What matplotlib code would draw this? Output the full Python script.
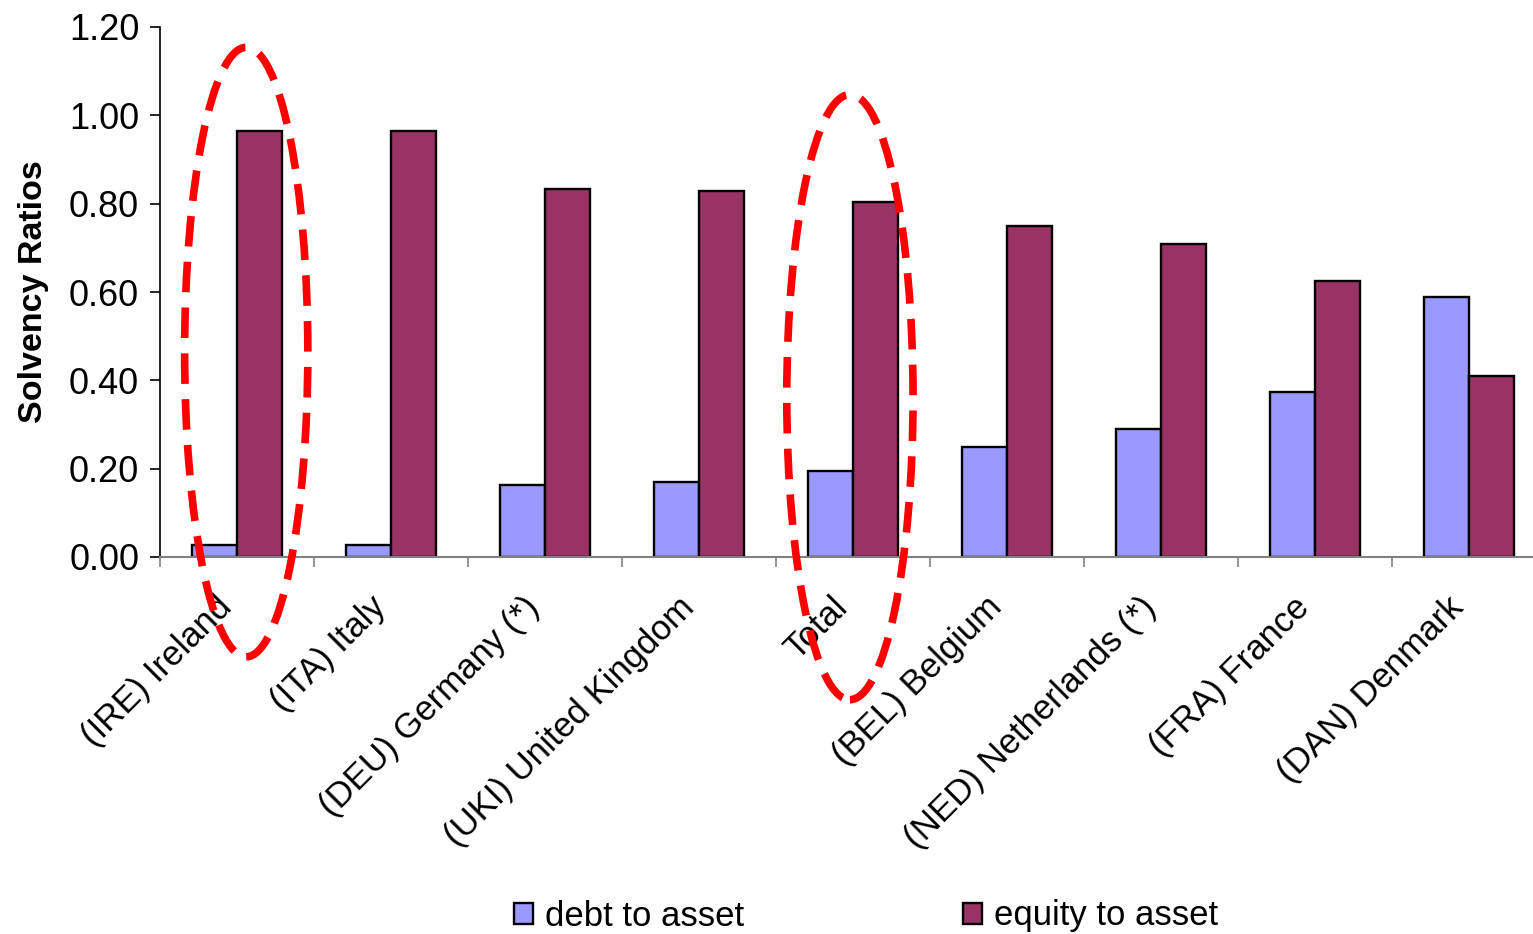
import matplotlib
matplotlib.use("Agg")
import matplotlib.pyplot as plt
import matplotlib.transforms as mtransforms
import numpy as np
from matplotlib.patches import Ellipse

plt.rcParams['font.family'] = ['Liberation Sans', 'DejaVu Sans']

categories = ["(IRE) Ireland", "(ITA) Italy", "(DEU) Germany (*)", "(UKI) United Kingdom",
              "Total", "(BEL) Belgium", "(NED) Netherlands (*)", "(FRA) France", "(DAN) Denmark"]
debt_to_asset = [0.027, 0.027, 0.164, 0.170, 0.195, 0.249, 0.290, 0.374, 0.589]
equity_to_asset = [0.964, 0.964, 0.833, 0.829, 0.804, 0.749, 0.709, 0.625, 0.410]
yticks = [0.00, 0.20, 0.40, 0.60, 0.80, 1.00, 1.20]

fig = plt.figure(figsize=(15.33, 9.34), dpi=100)
ax = fig.add_axes([160/1533, 1-557/934, (1546-160)/1533, (557-27)/934])

x = np.arange(len(categories))
w = 0.292
ax.bar(x - w/2, debt_to_asset, w, color='#9999FF', edgecolor='black', linewidth=1.7,
       label='debt to asset', zorder=2)
ax.bar(x + w/2, equity_to_asset, w, color='#993366', edgecolor='black', linewidth=1.7,
       label='equity to asset', zorder=2)

ax.set_xlim(-0.5, len(categories) - 0.5)
ax.set_ylim(0, 1.2)
ax.set_yticks(yticks)
ax.set_yticklabels([f"{v:.2f}" for v in yticks], fontsize=26)
ax.set_xticks(x)
ax.set_xticklabels([])
ax.set_xticks(np.arange(len(categories)) - 0.5, minor=True)
ax.tick_params(axis='x', which='major', length=0)
ax.tick_params(axis='x', which='minor', length=7, width=1.2, color='#808080', direction='out')
ax.tick_params(axis='y', length=7, width=1.2, direction='out', pad=8)

base = mtransforms.blended_transform_factory(ax.transData, ax.transAxes)
offset = mtransforms.ScaledTranslation(-0.22, -0.335, fig.dpi_scale_trans)
for xi, lab in zip(x, categories):
    ax.text(xi, 0, lab, transform=base + offset, fontsize=25, rotation=45,
            ha='right', va='top', rotation_mode='anchor', clip_on=False)

for s in ['top', 'right']:
    ax.spines[s].set_visible(False)
ax.spines['left'].set_color('black')
ax.spines['left'].set_linewidth(1.2)
ax.spines['bottom'].set_color('#808080')
ax.spines['bottom'].set_linewidth(1.5)

ax.set_ylabel('Solvency Ratios', fontsize=24.5, fontweight='bold', labelpad=14)

for cx, cy, ew, eh in [(0.06, 0.464, 0.80, 1.38), (3.98, 0.362, 0.82, 1.37)]:
    e = Ellipse((cx, cy), ew, eh, fill=False, edgecolor='#FF0000', linewidth=5.5,
                linestyle=(0, (4, 2)), clip_on=False, zorder=5)
    ax.add_patch(e)

fig.legend(loc='center', bbox_to_anchor=(866/1533, 1-916/934), ncol=2, frameon=False,
           fontsize=25, handlelength=0.55, handleheight=0.55, handletextpad=0.35,
           columnspacing=6.3)

fig.savefig('out.png', dpi=100)
